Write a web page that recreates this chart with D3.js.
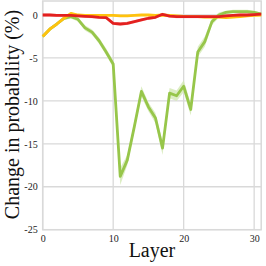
<!DOCTYPE html>
<html>
<head>
<meta charset="utf-8">
<script src="https://cdn.jsdelivr.net/npm/d3@7"></script>
<style>
  html, body { margin: 0; padding: 0; background: #fff; }
  svg { display: block; }
</style>
</head>
<body>
<svg id="chart"></svg>
<script>
// ── Data ──────────────────────────────────────────────────────────────────────
const layers = d3.range(0, 32);

const greenValues = [-2.5, -1.65, -1.05, -0.4, -0.2, -0.5, -1.5, -2.0, -3.0, -4.3,
  -5.7, -18.8, -16.9, -13.0, -8.9, -10.7, -12.0, -15.5, -9.1, -9.4,
  -8.3, -11.0, -4.3, -3.1, -0.8, 0.0, 0.3, 0.4, 0.4, 0.4, 0.3, 0.1];
const greenSpread = [0.2, 0.2, 0.2, 0.2, 0.2, 0.25, 0.3, 0.3, 0.35, 0.4,
  0.4, 1.0, 0.6, 0.5, 0.6, 0.5, 0.6, 0.8, 0.6, 0.6,
  0.7, 0.7, 0.6, 0.6, 0.4, 0.3, 0.2, 0.2, 0.2, 0.2, 0.2, 0.2];

const yellowValues = [-2.5, -1.65, -1.05, -0.4, 0.2, 0.0, -0.05, -0.05, -0.05, -0.05,
  -0.05, -0.1, -0.1, -0.05, 0.0, 0.0, -0.05, 0.0, -0.05, -0.1,
  -0.15, -0.2, -0.2, -0.25, -0.25, -0.25, -0.3, -0.25, -0.2, -0.1, -0.05, 0.0];
const yellowSpread = layers.map(() => 0.12);

const redValues = [0.0, 0.0, -0.05, -0.05, -0.05, -0.1, -0.15, -0.2, -0.27, -0.3,
  -0.97, -1.05, -0.97, -0.78, -0.58, -0.38, -0.27, 0.08, -0.12, -0.19,
  -0.2, -0.2, -0.2, -0.2, -0.2, -0.2, -0.1, -0.05, 0.0, 0.0, 0.05, 0.1];
const redSpread = layers.map(() => 0.18);

const xTicks = [0, 10, 20, 30];
const yTicks = [-25, -20, -15, -10, -5, 0];

const series = [
  { name: 'green',  color: '#97c64a', band: '#d3e8b4', values: greenValues,  spread: greenSpread },
  { name: 'yellow', color: '#ffc20e', band: '#ffe9a6', values: yellowValues, spread: yellowSpread },
  { name: 'red',    color: '#e3201f', band: '#f6b3b3', values: redValues,    spread: redSpread },
];

// ── Layout ────────────────────────────────────────────────────────────────────
const W = 266, H = 266;
const margin = { top: 1, right: 4.8, bottom: 36.3, left: 42.7 };

const svg = d3.select('#chart').attr('width', W).attr('height', H);

const x = d3.scaleLinear().domain([0, 31]).range([margin.left, W - margin.right]);
const y = d3.scaleLinear().domain([-25, 1.63]).range([H - margin.bottom, margin.top]);

const FONT = '"Liberation Serif", "DejaVu Serif", serif';
const GRID = '#d9d9d9';

// ── Grid ──────────────────────────────────────────────────────────────────────
const grid = svg.append('g');
grid.selectAll('line.v')
  .data(xTicks)
  .join('line')
    .attr('x1', d => x(d)).attr('x2', d => x(d))
    .attr('y1', y.range()[1]).attr('y2', y.range()[0])
    .attr('stroke', GRID).attr('stroke-width', 1.3);
grid.selectAll('line.h')
  .data(yTicks)
  .join('line')
    .attr('x1', x.range()[0]).attr('x2', x.range()[1])
    .attr('y1', d => y(d)).attr('y2', d => y(d))
    .attr('stroke', GRID).attr('stroke-width', 1.3);

// frame
svg.append('rect')
  .attr('x', x.range()[0]).attr('y', y.range()[1])
  .attr('width', x.range()[1] - x.range()[0])
  .attr('height', y.range()[0] - y.range()[1])
  .attr('fill', 'none').attr('stroke', GRID).attr('stroke-width', 1.5);

// ── Bands + Lines ─────────────────────────────────────────────────────────────
const plot = svg.append('g');

const area = (s) => d3.area()
  .x((d, i) => x(layers[i]))
  .y0((d, i) => y(d - s.spread[i]))
  .y1((d, i) => y(d + s.spread[i]));

const line = d3.line()
  .x((d, i) => x(layers[i]))
  .y(d => y(d));

series.forEach(s => {
  plot.append('path')
    .datum(s.values)
    .attr('d', area(s))
    .attr('fill', s.band)
    .attr('opacity', 0.8);
});

series.forEach(s => {
  plot.append('path')
    .datum(s.values)
    .attr('d', line)
    .attr('fill', 'none')
    .attr('stroke', s.color)
    .attr('stroke-width', 2.8)
    .attr('stroke-linejoin', 'round');
});

// ── Axes (labels only) ────────────────────────────────────────────────────────
const xAxis = svg.append('g')
  .attr('transform', `translate(0,${y.range()[0]})`)
  .call(d3.axisBottom(x).tickValues(xTicks).tickSize(0).tickPadding(5));
xAxis.select('.domain').remove();
xAxis.selectAll('text')
  .attr('font-family', FONT).attr('font-size', 10).attr('fill', '#222');

const yAxis = svg.append('g')
  .attr('transform', `translate(${x.range()[0]},0)`)
  .call(d3.axisLeft(y).tickValues(yTicks).tickSize(0).tickPadding(5)
    .tickFormat(d3.format('d')));
yAxis.select('.domain').remove();
yAxis.selectAll('text')
  .attr('font-family', FONT).attr('font-size', 10).attr('fill', '#222')
  .text(d => d < 0 ? '-' + Math.abs(d) : d);

// ── Axis titles ───────────────────────────────────────────────────────────────
svg.append('text')
  .attr('x', (x.range()[0] + x.range()[1]) / 2)
  .attr('y', 257)
  .attr('text-anchor', 'middle')
  .attr('font-family', FONT).attr('font-size', 20).attr('fill', '#111')
  .text('Layer');

svg.append('text')
  .attr('transform', 'translate(18.5,114.5) rotate(-90)')
  .attr('text-anchor', 'middle')
  .attr('font-family', FONT).attr('font-size', 20).attr('fill', '#111')
  .text('Change in probability (%)');
</script>
</body>
</html>
